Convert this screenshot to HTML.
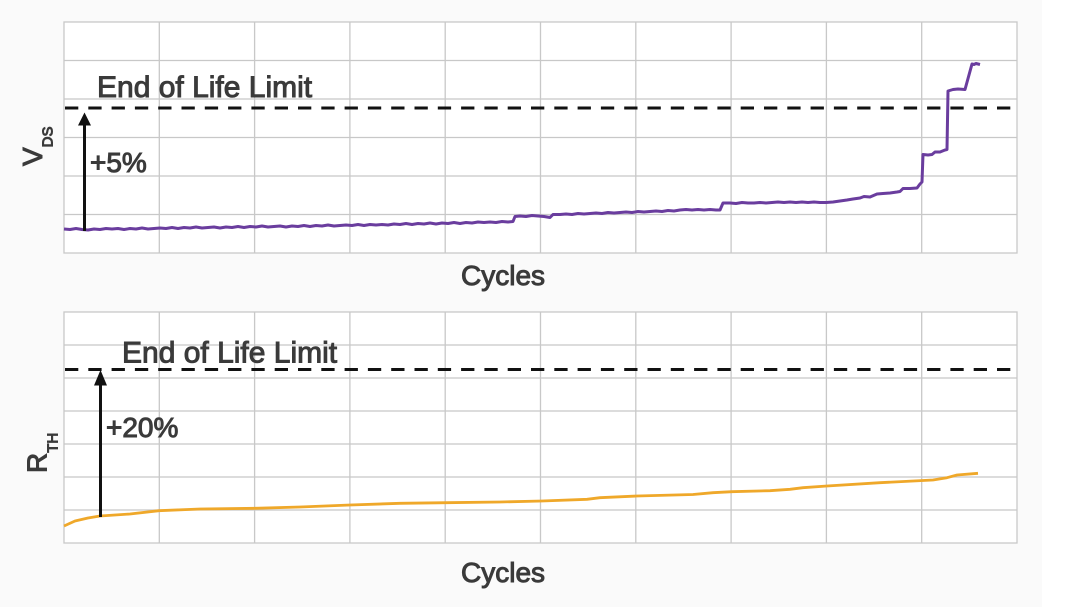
<!DOCTYPE html>
<html><head><meta charset="utf-8"><style>
html,body{margin:0;padding:0;background:#fafafa;}
svg{display:block;}
text{font-family:"Liberation Sans",sans-serif;fill:#3a3a3a;stroke:#3a3a3a;stroke-width:1px;}
</style></head><body>
<svg width="1080" height="607" viewBox="0 0 1080 607" xmlns="http://www.w3.org/2000/svg">
<rect x="0" y="0" width="1080" height="607" fill="#fafafa"/>
<rect x="1042" y="0" width="38" height="607" fill="#ffffff"/>

<!-- Top plot -->
<rect x="64" y="22" width="953" height="231" fill="#ffffff"/>
<g stroke="#c8c8c8" stroke-width="1.3" fill="none">
<line x1="64" y1="60.5" x2="1017" y2="60.5"/>
<line x1="64" y1="99" x2="1017" y2="99"/>
<line x1="64" y1="137.5" x2="1017" y2="137.5"/>
<line x1="64" y1="176" x2="1017" y2="176"/>
<line x1="64" y1="214.5" x2="1017" y2="214.5"/>
<line x1="159.3" y1="22" x2="159.3" y2="253"/>
<line x1="254.6" y1="22" x2="254.6" y2="253"/>
<line x1="349.9" y1="22" x2="349.9" y2="253"/>
<line x1="445.2" y1="22" x2="445.2" y2="253"/>
<line x1="540.5" y1="22" x2="540.5" y2="253"/>
<line x1="635.8" y1="22" x2="635.8" y2="253"/>
<line x1="731.1" y1="22" x2="731.1" y2="253"/>
<line x1="826.4" y1="22" x2="826.4" y2="253"/>
<line x1="921.7" y1="22" x2="921.7" y2="253"/>
<rect x="64" y="22" width="953" height="231"/>
</g>

<line x1="65" y1="108" x2="1013" y2="108" stroke="#111" stroke-width="3" stroke-dasharray="13.3 10"/>

<polyline fill="none" stroke="#6a3d9e" stroke-width="3" stroke-linejoin="round" points="64,229 70,229.5 76,228.5 82,229.5 88,230 94,229 100,229.5 106,228.5 112,229 118,228.5 124,229.5 130,228.5 136,229 142,228 148,229 154,228.5 160,228 166,228.5 172,227.5 178,228.5 184,227.5 190,228 196,227 202,228 208,227.5 214,227 220,228 226,227 232,227.5 238,226.5 244,227.5 250,226.5 256,227 262,226 268,227 274,226.5 280,226 286,227 292,226 298,226.5 304,225.5 310,226.5 316,225.5 322,226 328,225 334,226 340,225.5 346,225 352,225.5 358,224.5 364,225.5 370,224.5 376,225 382,224.5 388,225 394,224 400,224.5 406,223.5 412,224.5 418,223.5 424,224 430,223 436,224 442,223 448,223.5 454,222.5 460,223.5 466,222.5 472,223 478,222 484,222.5 490,222 496,222.5 502,221.5 508,222 513,221.5 515,216.5 520,216 526,216.5 532,215.5 538,216 544,216.5 550,217.5 553,214.5 560,214.5 566,214 572,214.5 578,213.5 584,214 590,213.5 596,213 602,213.5 608,212.5 614,213 620,212.5 626,212 632,212.5 638,211.5 644,212 650,211.5 656,211 662,211.5 668,210.5 674,211 680,210 686,209.5 692,210 698,209.5 704,210 710,209.5 716,210 720,210 723,203 730,203 736,203.5 742,202.5 748,203 754,203 760,202.5 766,203 772,202.5 778,202 784,202.5 790,202 796,202.5 802,202 808,202.5 814,202 820,202.5 826,202.5 833,202 840,201 847,200 853,199 860,198 864,196.5 870,197 877,194 883,193.5 890,193 897,192 900,191.5 903,188.5 910,188.5 917,188 920,184 922,182 923,154.5 928,155 932,154.5 935,152 940,152 945,150 947,149.5 948,91 953,89.5 958,89 965,89.5 972,64 974,64.5 976,63.5 980,64.5"/>

<line x1="84.5" y1="231" x2="84.5" y2="122" stroke="#111" stroke-width="3"/>
<polygon points="78,125.5 91,125.5 84.5,112.5" fill="#111"/>

<text x="97" y="97" font-size="30">End of Life Limit</text>
<text x="90" y="172" font-size="28">+5%</text>
<text x="461" y="285" font-size="28">Cycles</text>
<text transform="translate(42,166) rotate(-90)" font-size="28">V<tspan font-size="15" dy="10.7">DS</tspan></text>

<!-- Bottom plot -->
<rect x="64" y="312" width="953" height="231" fill="#ffffff"/>
<g stroke="#c8c8c8" stroke-width="1.3" fill="none">
<line x1="64" y1="345" x2="1017" y2="345"/>
<line x1="64" y1="378" x2="1017" y2="378"/>
<line x1="64" y1="411" x2="1017" y2="411"/>
<line x1="64" y1="444" x2="1017" y2="444"/>
<line x1="64" y1="477" x2="1017" y2="477"/>
<line x1="64" y1="510" x2="1017" y2="510"/>
<line x1="159.3" y1="312" x2="159.3" y2="543"/>
<line x1="254.6" y1="312" x2="254.6" y2="543"/>
<line x1="349.9" y1="312" x2="349.9" y2="543"/>
<line x1="445.2" y1="312" x2="445.2" y2="543"/>
<line x1="540.5" y1="312" x2="540.5" y2="543"/>
<line x1="635.8" y1="312" x2="635.8" y2="543"/>
<line x1="731.1" y1="312" x2="731.1" y2="543"/>
<line x1="826.4" y1="312" x2="826.4" y2="543"/>
<line x1="921.7" y1="312" x2="921.7" y2="543"/>
<rect x="64" y="312" width="953" height="231"/>
</g>

<line x1="65" y1="369.5" x2="1013" y2="369.5" stroke="#111" stroke-width="3" stroke-dasharray="13.3 10"/>

<polyline fill="none" stroke="#efa82a" stroke-width="2.8" stroke-linejoin="round" points="64,526 75,521 88,518 100,516 130,514 159,510.7 200,509 255,508.3 300,507 350,505 400,503.3 447,502.7 500,502 542,501 587,499.3 600,497.7 637,496 693,494.5 713,492.7 732,491.7 770,490.7 790,489.3 803,487.7 827,486 880,482.7 933,480 947,477.7 957,475 978,473.3"/>

<line x1="100.5" y1="517" x2="100.5" y2="382" stroke="#111" stroke-width="3"/>
<polygon points="94,385.5 107,385.5 100.5,370" fill="#111"/>

<text x="122" y="362.5" font-size="30">End of Life Limit</text>
<text x="106" y="437" font-size="28">+20%</text>
<text x="461" y="582" font-size="28">Cycles</text>
<text transform="translate(46.7,473) rotate(-90)" font-size="28">R<tspan font-size="15" dy="11">TH</tspan></text>
</svg>
</body></html>
